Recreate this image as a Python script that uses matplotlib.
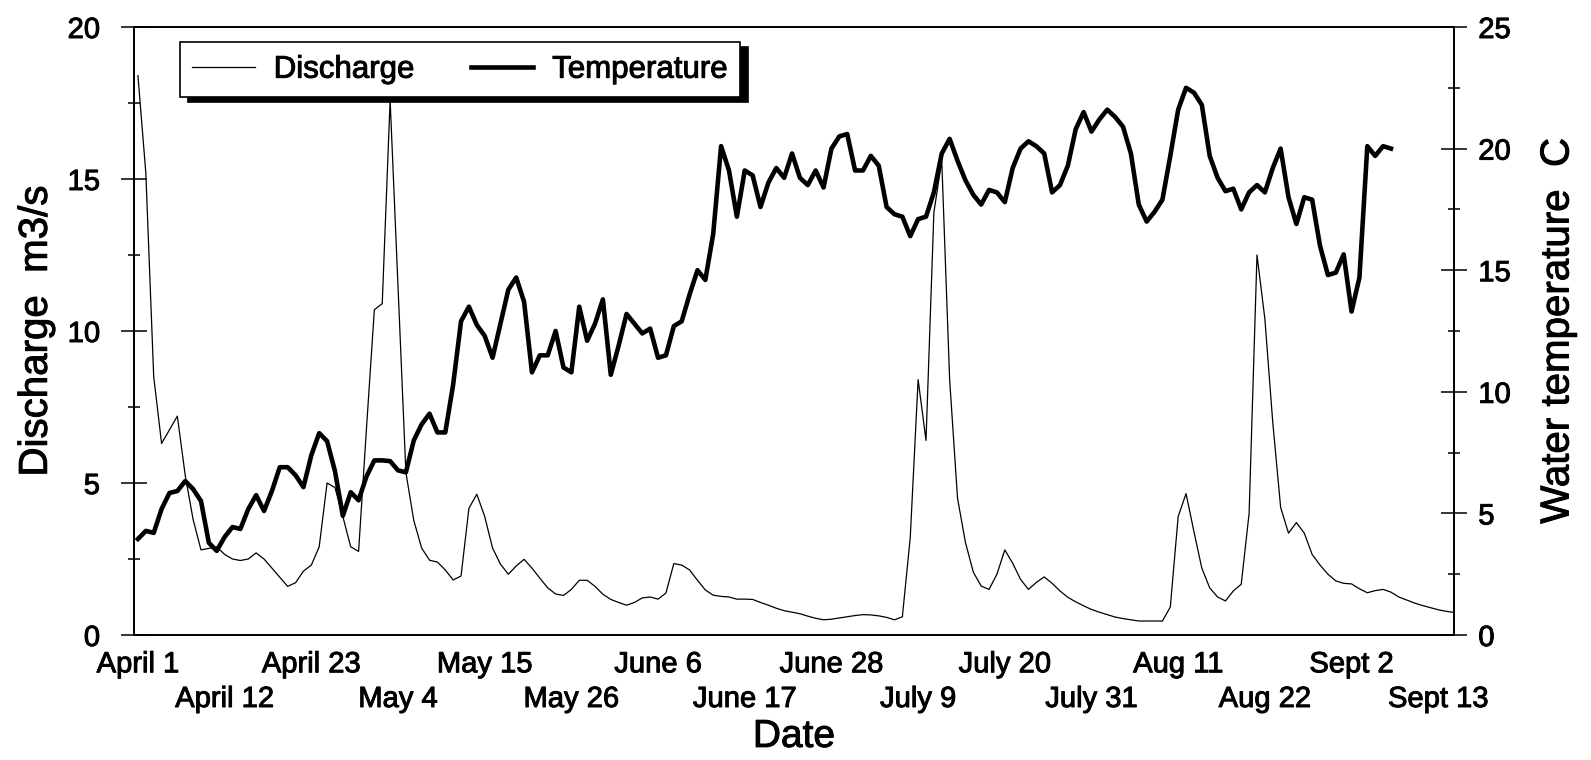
import numpy as np
import matplotlib

matplotlib.use("Agg")
import matplotlib.pyplot as plt
import matplotlib.patheffects as pe
from matplotlib.text import Text
from matplotlib.ticker import MultipleLocator

plt.rcParams["font.family"] = ["Liberation Sans", "DejaVu Sans"]

# daily values, day 0 = April 1
discharge = [
    18.4, 15.2, 8.5, 6.3, 6.75, 7.2, 5.25, 3.8, 2.8, 2.85,
    2.9, 2.65, 2.5, 2.45, 2.5, 2.7, 2.5, 2.2, 1.9, 1.6,
    1.72, 2.1, 2.3, 2.9, 5.0, 4.85, 3.9, 2.9, 2.75, 6.8,
    10.7, 10.9, 17.6, 11.5, 5.35, 3.77, 2.86, 2.46, 2.4, 2.14,
    1.81, 1.94, 4.17, 4.63, 3.9, 2.86, 2.33, 2.0, 2.27, 2.49,
    2.2, 1.87, 1.55, 1.35, 1.3, 1.5, 1.8, 1.8, 1.6, 1.34,
    1.17, 1.07, 0.98, 1.07, 1.22, 1.25, 1.18, 1.38, 2.35, 2.3,
    2.14, 1.8, 1.48, 1.31, 1.27, 1.25, 1.18, 1.18, 1.17, 1.07,
    0.98, 0.88, 0.8, 0.75, 0.7, 0.62, 0.55, 0.5, 0.52, 0.56,
    0.6, 0.64, 0.67, 0.66, 0.63, 0.58, 0.5, 0.6, 3.2, 8.4,
    6.4, 13.9, 15.6, 8.4, 4.5, 3.05, 2.07, 1.61, 1.5, 2.0,
    2.8, 2.36, 1.83, 1.5, 1.73, 1.91, 1.7, 1.45, 1.24, 1.09,
    0.96, 0.84, 0.75, 0.67, 0.59, 0.54, 0.5, 0.46, 0.46, 0.46,
    0.46, 0.92, 3.9, 4.65, 3.4, 2.2, 1.55, 1.25, 1.12, 1.45,
    1.67, 4.0, 12.5, 10.4, 7.0, 4.2, 3.35, 3.7, 3.35, 2.65,
    2.3, 2.0, 1.78, 1.7, 1.68, 1.52, 1.39, 1.46, 1.5, 1.41,
    1.25, 1.15, 1.05, 0.97, 0.9, 0.83, 0.78, 0.74,
]

temperature = [
    3.95, 4.28, 4.2, 5.18, 5.84, 5.92, 6.33, 6.0, 5.51, 3.79,
    3.46, 4.03, 4.44, 4.36, 5.18, 5.75, 5.1, 5.92, 6.9, 6.9,
    6.57, 6.08, 7.39, 8.3, 7.97, 6.74, 4.9, 5.87, 5.54, 6.52,
    7.18, 7.18, 7.15, 6.77, 6.69, 8.0, 8.66, 9.1, 8.33, 8.33,
    10.3, 12.9, 13.5, 12.75, 12.3, 11.4, 12.8, 14.2, 14.7, 13.7,
    10.8, 11.5, 11.5, 12.5, 11.0, 10.8, 13.5, 12.1, 12.8, 13.8,
    10.7, 11.9, 13.2, 12.8, 12.4, 12.6, 11.4, 11.5, 12.7, 12.9,
    14.0, 15.0, 14.6, 16.5, 20.1, 19.1, 17.2, 19.1, 18.9, 17.6,
    18.6, 19.2, 18.8, 19.8, 18.8, 18.5, 19.1, 18.4, 20.0, 20.5,
    20.6, 19.1, 19.1, 19.7, 19.3, 17.6, 17.3, 17.2, 16.4, 17.1,
    17.2, 18.2, 19.8, 20.4, 19.5, 18.7, 18.1, 17.7, 18.3, 18.2,
    17.8, 19.2, 20.0, 20.3, 20.1, 19.8, 18.2, 18.5, 19.3, 20.8,
    21.5, 20.7, 21.2, 21.6, 21.3, 20.9, 19.8, 17.7, 17.0, 17.4,
    17.9, 19.7, 21.6, 22.5, 22.3, 21.8, 19.7, 18.8, 18.25, 18.35,
    17.5, 18.2, 18.5, 18.2, 19.2, 20.0, 18.0, 16.9, 18.0, 17.9,
    16.0, 14.8, 14.9, 15.65, 13.3, 14.7, 20.1, 19.7, 20.1, 20.0,
]

date_labels = ["April 1", "April 12", "April 23", "May 4", "May 15", "May 26",
               "June 6", "June 17", "June 28", "July 9", "July 20", "July 31",
               "Aug 11", "Aug 22", "Sept 2", "Sept 13"]
date_days = list(range(0, 166, 11))

days_q = np.arange(len(discharge))
days_t = np.arange(len(temperature))

fig = plt.figure(figsize=(15.91, 7.60), dpi=100)
ax = fig.add_axes([134 / 1591, 125 / 760, 1320 / 1591, 608 / 760])
ax2 = ax.twinx()

l1, = ax.plot(days_q, discharge, color="black", linewidth=0.9)
l2, = ax2.plot(days_t, temperature, color="black", linewidth=3.3)

ax.set_xlim(-0.5, 167.0)
ax.set_ylim(0, 20)
ax2.set_ylim(0, 25)

# staggered date labels: upper row on major ticks, lower row on minor ticks
ax.set_xticks(date_days[0::2], date_labels[0::2])
ax.set_xticks(date_days[1::2], date_labels[1::2], minor=True)
ax.tick_params(axis="x", which="both", length=0, labelsize=21)
ax.tick_params(axis="x", which="major", pad=11)
ax.tick_params(axis="x", which="minor", pad=36)

ax.yaxis.set_major_locator(MultipleLocator(5))
ax.yaxis.set_minor_locator(MultipleLocator(2.5))
ax2.yaxis.set_major_locator(MultipleLocator(5))
ax2.yaxis.set_minor_locator(MultipleLocator(2.5))
ax.tick_params(axis="y", which="major", direction="inout", length=19, width=1.1, labelsize=21, pad=15)
ax.tick_params(axis="y", which="minor", direction="inout", length=9, width=1.1)
ax2.tick_params(axis="y", which="major", direction="inout", length=19, width=1.1, labelsize=21, pad=8)
ax2.tick_params(axis="y", which="minor", direction="inout", length=9, width=1.1)

for a in (ax, ax2):
    for s in a.spines.values():
        s.set_linewidth(1.3)

ax.set_ylabel("Discharge  m3/s", fontsize=29)
ax.yaxis.set_label_coords(-0.060, 0.5)
ax2.set_ylabel("Water temperature  C", fontsize=29)
ax2.yaxis.set_label_coords(1.064, 0.5)
ax.set_xlabel("Date", fontsize=28)
ax.xaxis.set_label_coords(0.5, -0.138)

leg = ax2.legend([l1, l2], ["Discharge", "Temperature"], loc="upper left",
                 bbox_to_anchor=(0.0348, 0.975), ncol=2, fancybox=False,
                 shadow={"ox": 5.5, "oy": -3.5, "shade": 1.0, "alpha": 1.0},
                 edgecolor="black", framealpha=1, fontsize=22.5,
                 handlelength=2.0, handletextpad=0.6, columnspacing=1.8,
                 borderpad=0.4, borderaxespad=0)
leg.get_frame().set_linewidth(1.2)

# the scanned original has slightly heavy lettering
for t in fig.findobj(Text):
    t.set_path_effects([pe.withStroke(linewidth=0.7, foreground="black")])

fig.savefig("out.png", dpi=100)
